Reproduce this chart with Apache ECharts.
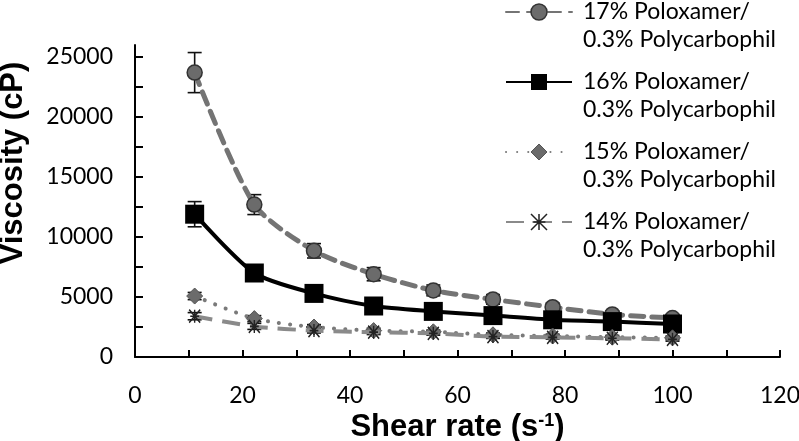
<!DOCTYPE html>
<html>
<head>
<meta charset="utf-8">
<script src="https://cdn.jsdelivr.net/npm/echarts@6/dist/echarts.min.js"></script>
<style>
html,body{margin:0;padding:0;background:#fff;}
#chart{width:799px;height:441px;}
</style>
</head>
<body>
<div id="chart"></div>
<script>
// ---- data ----
const shearRate = [11.1, 22.2, 33.3, 44.4, 55.5, 66.6, 77.7, 88.8, 100];
const seriesNames = [
  '17% Poloxamer/\n0.3% Polycarbophil',
  '16% Poloxamer/\n0.3% Polycarbophil',
  '15% Poloxamer/\n0.3% Polycarbophil',
  '14% Poloxamer/\n0.3% Polycarbophil'
];
const visc17 = [23700, 12700, 8850, 6900, 5550, 4800, 4150, 3550, 3250];
const err17  = [1670, 830, 600, 550, 450, 400, 350, 300, 300];
const visc16 = [11900, 7000, 5300, 4250, 3800, 3450, 3100, 2950, 2750];
const err16  = [1050, 500, 400, 350, 300, 300, 250, 250, 250];
const visc15 = [5080, 3200, 2500, 2200, 2100, 1850, 1750, 1650, 1600];
const err15  = [300, 250, 200, 200, 150, 150, 150, 150, 150];
const visc14 = [3400, 2550, 2200, 2070, 1970, 1700, 1640, 1560, 1470];
const err14  = [300, 250, 200, 200, 150, 150, 150, 150, 150];
const xTickValues = [0, 10, 20, 30, 40, 50, 60, 70, 80, 90, 100, 110, 120];
const xLabelValues = [0, 20, 40, 60, 80, 100, 120];
const yTickValues = [0, 2500, 5000, 7500, 10000, 12500, 15000, 17500, 20000, 22500, 25000];
const yLabelValues = [0, 5000, 10000, 15000, 20000, 25000];

const zip = (xs, ys) => xs.map((x, i) => [x, ys[i]]);
const errData = [];
[[visc17, err17], [visc16, err16], [visc15, err15], [visc14, err14]].forEach(([v, e]) => {
  shearRate.forEach((x, i) => errData.push([x, v[i], e[i]]));
});

const asterisk = 'path://M0,0L10,12M10,0L0,12M5,0L5,12M1,6L9,6';
const legendIconY = [12, 82, 152, 222];
const legendBase = {
  left: 505, padding: 0, itemWidth: 66, itemHeight: 20, selectedMode: false,
  formatter: function (name) { return ' \n' + name; },
  textStyle: {fontFamily: 'Lato', fontSize: 23, lineHeight: 28, color: '#000', padding: [0, 0, 0, 6]}
};
const legendItemStyles = [
  {color: '#6b6b6b', borderColor: '#333', borderWidth: 1.5},
  {color: '#000', borderColor: '#000', borderWidth: 0},
  {color: '#6b6b6b', borderColor: '#555', borderWidth: 1},
  {color: 'rgba(0,0,0,0)', borderColor: '#222', borderWidth: 1.5}
];

const chart = echarts.init(document.getElementById('chart'));
chart.setOption({
  animation: false,
  backgroundColor: '#fff',
  grid: {left: 135, right: 19, top: 45, bottom: 84, containLabel: false, outerBoundsMode: 'none'},
  legend: seriesNames.map((n, i) => Object.assign({}, legendBase, {
    data: [n], top: legendIconY[i] - 42, itemStyle: legendItemStyles[i]
  })),
  xAxis: {
    type: 'value', min: 0, max: 120, interval: 20,
    axisLine: {show: true, lineStyle: {color: '#000', width: 2}},
    axisTick: {show: true, inside: true, length: 7, lineStyle: {color: '#000', width: 2}, customValues: xTickValues},
    axisLabel: {customValues: xLabelValues, margin: 27, fontFamily: 'Lato', fontSize: 23, color: '#000',
      formatter: function (v) { return String(v); }},
    splitLine: {show: false},
    name: '{a|Shear rate (s}{b|-1}{a|)}',
    nameLocation: 'middle', nameGap: 49,
    nameTextStyle: {
      rich: {
        a: {fontFamily: 'Liberation Sans', fontWeight: 'bold', fontSize: 31, color: '#000'},
        b: {fontFamily: 'Liberation Sans', fontWeight: 'bold', fontSize: 18, color: '#000', verticalAlign: 'top', padding: [0, 0, 12, 0]}
      }
    }
  },
  yAxis: {
    type: 'value', min: 0, max: 26000, interval: 5000,
    axisLine: {show: true, lineStyle: {color: '#000', width: 2}},
    axisTick: {show: true, inside: true, length: 8, lineStyle: {color: '#000', width: 2}, customValues: yTickValues},
    axisLabel: {customValues: yLabelValues, margin: 22, fontFamily: 'Lato', fontSize: 23, color: '#000',
      formatter: function (v) { return String(v); }},
    splitLine: {show: false},
    name: 'Viscosity (cP)', nameLocation: 'middle', nameGap: 106,
    nameTextStyle: {fontFamily: 'Liberation Sans', fontWeight: 'bold', fontSize: 31, color: '#000', padding: [0, 0, 0, 76]}
  },
  series: [
    {
      type: 'custom', silent: true, z: 1,
      data: errData,
      renderItem: function (params, api) {
        const x = api.value(0), y = api.value(1), e = api.value(2);
        const t = api.coord([x, y + e]), b = api.coord([x, y - e]);
        const w = 7, st = {stroke: '#111', lineWidth: 1.6};
        return {type: 'group', children: [
          {type: 'line', shape: {x1: t[0], y1: t[1], x2: b[0], y2: b[1]}, style: st},
          {type: 'line', shape: {x1: t[0] - w, y1: t[1], x2: t[0] + w, y2: t[1]}, style: st},
          {type: 'line', shape: {x1: b[0] - w, y1: b[1], x2: b[0] + w, y2: b[1]}, style: st}
        ]};
      }
    },
    {
      name: seriesNames[0], type: 'line', z: 2, smooth: 0.25,
      data: zip(shearRate, visc17),
      symbol: 'circle', symbolSize: 15,
      itemStyle: {color: '#6b6b6b', borderColor: '#333', borderWidth: 1.5},
      lineStyle: {color: '#747474', width: 5, type: [13, 8], cap: 'round'}
    },
    {
      name: seriesNames[1], type: 'line', z: 3, smooth: 0.25,
      data: zip(shearRate, visc16),
      symbol: 'rect', symbolSize: 19,
      itemStyle: {color: '#000'},
      lineStyle: {color: '#000', width: 4}
    },
    {
      name: seriesNames[2], type: 'line', z: 4, smooth: 0.25,
      data: zip(shearRate, visc15),
      symbol: 'diamond', symbolSize: [16, 16],
      itemStyle: {color: '#6b6b6b', borderColor: '#555', borderWidth: 1},
      lineStyle: {color: '#7a7a7a', width: 4, type: [0.1, 11], cap: 'round'}
    },
    {
      name: seriesNames[3], type: 'line', z: 5, smooth: 0.25,
      data: zip(shearRate, visc14),
      symbol: asterisk, symbolSize: [11, 13],
      itemStyle: {color: 'rgba(0,0,0,0)', borderColor: '#222', borderWidth: 1.5},
      lineStyle: {color: '#8a8a8a', width: 4, type: [18, 10]}
    }
  ]
});
</script>
</body>
</html>
